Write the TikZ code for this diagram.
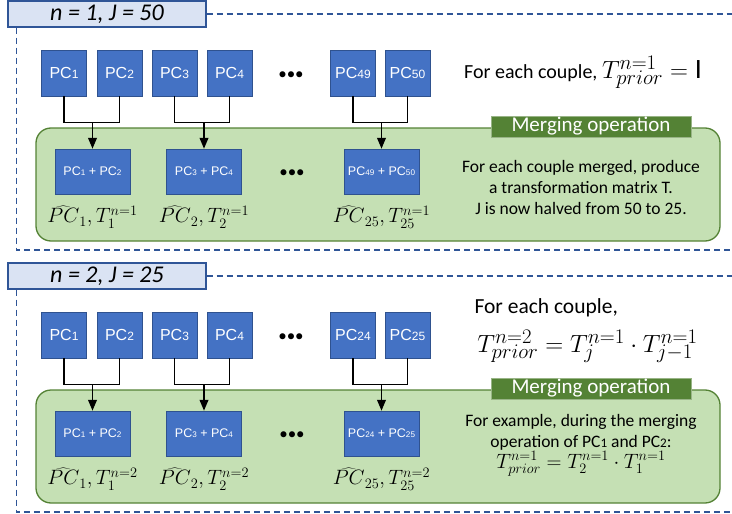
\documentclass[tikz,border=0pt]{standalone}
\usepackage{fontspec}
\setmainfont{Carlito}
\newfontfamily\arialfont{Liberation Sans}
\usetikzlibrary{arrows,positioning}

\definecolor{boxblue}{HTML}{4472C4}
\definecolor{boxedge}{HTML}{2F528F}
\definecolor{titlefill}{HTML}{DAE3F3}
\definecolor{frameblue}{HTML}{2F5597}
\definecolor{mergefill}{HTML}{C5E0B4}
\definecolor{mergeedge}{HTML}{548235}
\definecolor{tagfill}{HTML}{548235}

% component label with small index digits
\newcommand{\PC}[2][0.75]{PC\scalebox{#1}{#2}}

\tikzset{
  pcbox/.style={draw=boxedge,fill=boxblue,text=white,line width=0.8pt,
    minimum width=45pt,minimum height=46pt,inner sep=0pt,
    font=\arialfont\fontsize{16}{16}\selectfont},
  sumbox/.style={pcbox,minimum width=75pt,minimum height=45pt,
    font=\arialfont\fontsize{12.5}{13}\selectfont},
  titlebox/.style={draw=frameblue,fill=titlefill,line width=1.2pt,
    minimum width=198pt,minimum height=26pt,inner sep=0pt,
    font=\itshape\fontsize{24}{24}\selectfont},
  dashframe/.style={draw=frameblue,line width=1.1pt,dash pattern=on 6pt off 4pt},
  mergebox/.style={draw=mergeedge,fill=mergefill,line width=1.3pt,
    rounded corners=15pt,minimum width=684pt,minimum height=113pt},
  mergetag/.style={fill=tagfill,draw=mergeedge!60!white,text=white,
    minimum width=200pt,minimum height=21pt,inner sep=0pt,
    font=\fontsize{21}{21}\selectfont},
  link/.style={line width=1.5pt},
  result/.style={inner sep=1pt,font=\fontsize{21}{21}\selectfont},
  note/.style={align=center,font=\fontsize{17.5}{21}\selectfont},
  dots/.style={inner sep=0pt,font=\fontsize{17}{17}\selectfont},
}

\begin{document}
\begin{tikzpicture}[>=triangle 45,x=1pt,y=-1pt]
\useasboundingbox (0,0) rectangle (732,514);

\foreach \s/\oy/\J/\pa/\pb in {1/0/50/49/50,2/262/25/24/25}{
  \begin{scope}[yshift=-\oy pt]
    % heading and dashed frame
    \node[titlebox] (head\s) at (107,14) {n = \s, J = \J};
    \coordinate (corner\s) at (732,250);
    \draw[dashframe] (head\s.east) -- (head\s.east -| corner\s);
    \draw[dashframe] ([xshift=9pt]head\s.south west) |- (corner\s);

    % merging area
    \node[mergebox] (area\s) at (378,184.5) {};
    \node[mergetag] (tag\s) at (591,126.5) {Merging operation};

    % input components
    \foreach \k/\x/\lab in {1/64/1,2/119.5/2,3/174.5/3,4/229.5/4,5/353/\pa,6/407.5/\pb}
      \node[pcbox] (pc\s-\k) at (\x,73) {\PC{\lab}};
    \node[dots] (dotsA\s) at (291,76) {\textbullet\textbullet\textbullet};

    % merged components
    \foreach \k/\x/\a/\b in {1/92.5/1/2,2/204/3/4,3/381.5/\pa/\pb}
      \node[sumbox] (sum\s-\k) at (\x,171.5) {\PC[0.65]{\a} + \PC[0.65]{\b}};
    \node[dots] (dotsB\s) at (292,174) {\textbullet\textbullet\textbullet};

    % each couple goes into one merge
    \foreach \k/\a/\b in {1/1/2,2/3/4,3/5/6}{
      \draw[link] (pc\s-\a.south) -- ++(0,26) coordinate (bar\s-\k) -| (pc\s-\b.south);
      \draw[link,->] (sum\s-\k.north |- bar\s-\k) -- (sum\s-\k.north);
    }

    \node[result,below=10pt of sum\s-1] (res\s-1) {$\widehat{PC}_1, T_1^{n=\s}$};
    \node[result,below=10pt of sum\s-2] (res\s-2) {$\widehat{PC}_2, T_2^{n=\s}$};
    \node[result,below=10pt of sum\s-3] (res\s-3) {$\widehat{PC}_{25}, T_{25}^{n=\s}$};
  \end{scope}
}

% first pass
\node[font=\fontsize{20}{20}\selectfont] (rule1) at (583,72)
  {For each couple, {\fontsize{28}{28}\selectfont$T^{n=1}_{prior} = \mathrm{I}$}};
\node[note] (info1) at (581,187)
  {For each couple merged, produce\\a transformation matrix T.\\J is now halved from 50 to 25.};

% second pass
\node[anchor=west,font=\fontsize{21.5}{21.5}\selectfont] (rule2a) at (471,308) {For each couple,};
\node[font=\fontsize{29}{29}\selectfont] (rule2b) at (587.5,346)
  {$T^{n=2}_{prior} = T^{n=1}_j \cdot T^{n=1}_{j-1}$};
\node[note] (info2) at (581,445)
  {For example, during the merging\\operation of \PC{1} and \PC{2}:\\
   {\fontsize{20.5}{20.5}\selectfont$T^{n=1}_{prior} = T^{n=1}_2 \cdot T^{n=1}_1$}};
\end{tikzpicture}
\end{document}
